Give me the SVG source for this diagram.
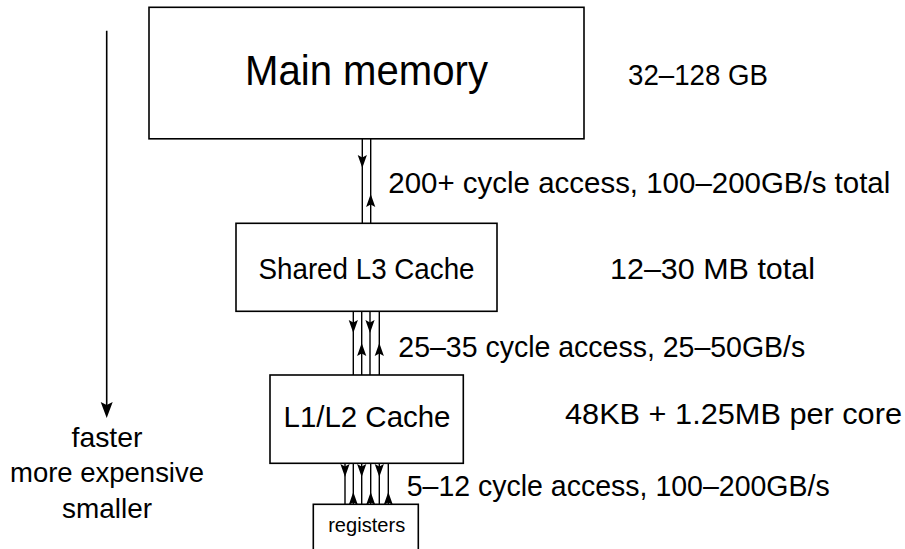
<svg xmlns="http://www.w3.org/2000/svg" xmlns:xlink="http://www.w3.org/1999/xlink" width="905" height="549" viewBox="0 0 905 549">
<style>
.box{fill:#fff;stroke:#000;stroke-width:1.6}
.t{font-family:"Liberation Sans",Arial,sans-serif;fill:#000}
.c{fill:none;stroke:#000;stroke-width:1.4}
</style>
<defs>
<path id="dn" d="M-4.6,-13 L0,0 L4.6,-13 L0,-10.5 z" fill="#000"/>
<path id="up" d="M-4.6,13 L0,0 L4.6,13 L0,10.5 z" fill="#000"/>
<path id="dnb" d="M-6,-16 L0,0 L6,-16 L0,-13 z" fill="#000"/>
</defs>
<rect width="905" height="549" fill="#fff"/>

<g id="main-memory">
<rect class="box" x="149" y="7.3" width="435" height="131.5"/>
<text class="t" x="366.5" y="85" font-size="43" text-anchor="middle" textLength="243" lengthAdjust="spacingAndGlyphs">Main memory</text>
</g>
<g id="l3">
<rect class="box" x="236" y="223.3" width="261" height="88"/>
<text class="t" x="366.5" y="279" font-size="29" text-anchor="middle" textLength="216" lengthAdjust="spacingAndGlyphs">Shared L3 Cache</text>
</g>
<g id="l1l2">
<rect class="box" x="270" y="375" width="193.3" height="88.3"/>
<text class="t" x="367" y="426.7" font-size="29" text-anchor="middle" textLength="167" lengthAdjust="spacingAndGlyphs">L1/L2 Cache</text>
</g>
<g id="registers">
<rect class="box" x="313.3" y="504.3" width="105" height="60"/>
<text class="t" x="366.7" y="532.3" font-size="20" text-anchor="middle" textLength="77" lengthAdjust="spacingAndGlyphs">registers</text>
</g>

<g id="connectors">
<path class="c" d="M362.3,138.8 V223.3 M370.7,138.8 V223.3"/>
<use xlink:href="#dn" x="362.3" y="168"/>
<use xlink:href="#up" x="370.7" y="194"/>
<path class="c" d="M353.3,311.3 V375 M361.7,311.3 V375 M370,311.3 V375 M379.3,311.3 V375"/>
<use xlink:href="#dn" x="353.3" y="333"/>
<use xlink:href="#up" x="361.7" y="343"/>
<use xlink:href="#dn" x="370" y="333"/>
<use xlink:href="#up" x="379.3" y="343"/>
<path class="c" d="M345,463.3 V504.3 M353.3,463.3 V504.3 M361.7,463.3 V504.3 M370.7,463.3 V504.3 M379.3,463.3 V504.3 M388.3,463.3 V504.3"/>
<use xlink:href="#dn" x="345" y="477"/>
<use xlink:href="#up" x="353.3" y="492"/>
<use xlink:href="#dn" x="361.7" y="477"/>
<use xlink:href="#up" x="370.7" y="492"/>
<use xlink:href="#dn" x="379.3" y="477"/>
<use xlink:href="#up" x="388.3" y="492"/>
<line x1="106.7" y1="30.7" x2="106.7" y2="406" stroke="#000" stroke-width="1.6"/>
<use xlink:href="#dnb" x="106.7" y="418"/>
</g>

<g id="labels">
<text class="t" x="628" y="85" font-size="29" textLength="140" lengthAdjust="spacingAndGlyphs">32–128 GB</text>
<text class="t" x="388.3" y="193.3" font-size="29" textLength="502" lengthAdjust="spacingAndGlyphs">200+ cycle access, 100–200GB/s total</text>
<text class="t" x="610" y="279" font-size="29" textLength="205" lengthAdjust="spacingAndGlyphs">12–30 MB total</text>
<text class="t" x="398.3" y="356.7" font-size="29" textLength="407" lengthAdjust="spacingAndGlyphs">25–35 cycle access, 25–50GB/s</text>
<text class="t" x="565" y="424" font-size="29" textLength="337" lengthAdjust="spacingAndGlyphs">48KB + 1.25MB per core</text>
<text class="t" x="406.7" y="496" font-size="29" textLength="423" lengthAdjust="spacingAndGlyphs">5–12 cycle access, 100–200GB/s</text>
<text class="t" x="107" y="446.7" font-size="28" text-anchor="middle" textLength="71" lengthAdjust="spacingAndGlyphs">faster</text>
<text class="t" x="107" y="481.7" font-size="28" text-anchor="middle" textLength="194" lengthAdjust="spacingAndGlyphs">more expensive</text>
<text class="t" x="107" y="518.3" font-size="28" text-anchor="middle" textLength="90" lengthAdjust="spacingAndGlyphs">smaller</text>
</g>
</svg>
